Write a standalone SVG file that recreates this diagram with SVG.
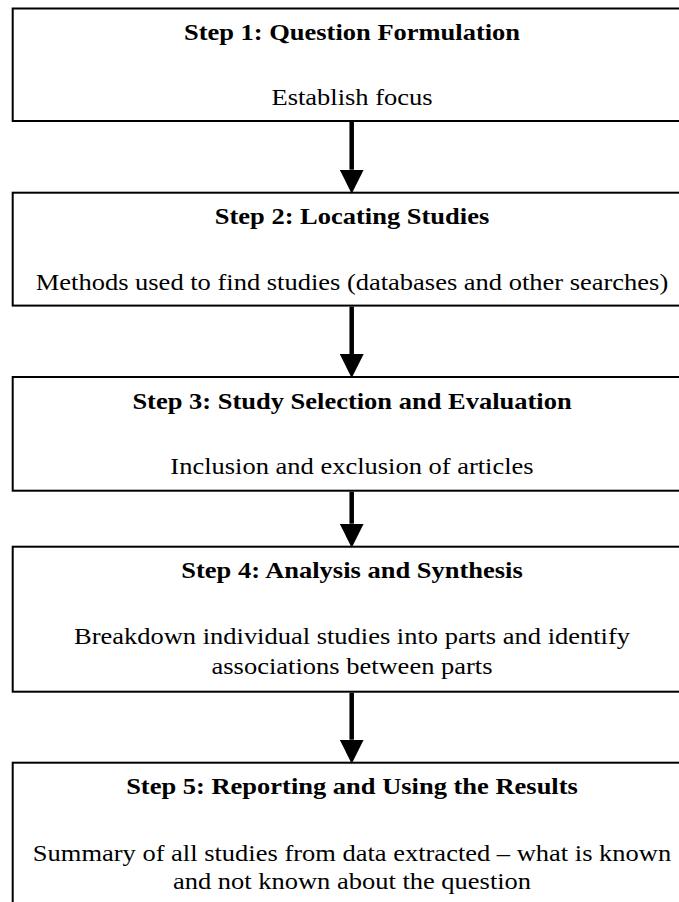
<svg xmlns="http://www.w3.org/2000/svg" width="679" height="902" viewBox="0 0 679 902">
<style>
.box{fill:#fff;stroke:#000;stroke-width:2}
.t{font-family:"Liberation Serif","Times New Roman",serif;font-size:24px;fill:#000;text-anchor:middle}
.b{font-weight:bold}
.conn{stroke:#000;stroke-width:4.5;fill:none;marker-end:url(#ah)}
</style>
<defs>
<marker id="ah" markerUnits="userSpaceOnUse" markerWidth="24" markerHeight="24" viewBox="0 0 23 23" refX="0" refY="11.5" orient="auto">
<path d="M0,0 L23,11.5 L0,23 z" fill="#000"/>
</marker>
</defs>
<rect width="679" height="902" fill="#fff"/>
<g id="step1">
<rect class="box" x="12.7" y="8.5" width="680" height="112.5"/>
<g transform="translate(352 0) scale(1.104 1)">
<text class="t b" x="0" y="40">Step 1: Question Formulation</text>
<text class="t" x="0" y="105">Establish focus</text>
</g>
</g>
<g id="step2">
<rect class="box" x="12.7" y="192.7" width="680" height="112.9"/>
<g transform="translate(352 0) scale(1.104 1)">
<text class="t b" x="0" y="224.5">Step 2: Locating Studies</text>
<text class="t" x="0" y="290">Methods used to find studies (databases and other searches)</text>
</g>
</g>
<g id="step3">
<rect class="box" x="12.7" y="377" width="680" height="113.7"/>
<g transform="translate(352 0) scale(1.104 1)">
<text class="t b" x="0" y="409">Step 3: Study Selection and Evaluation</text>
<text class="t" x="0" y="474.5">Inclusion and exclusion of articles</text>
</g>
</g>
<g id="step4">
<rect class="box" x="12.7" y="546.7" width="680" height="145"/>
<g transform="translate(352 0) scale(1.104 1)">
<text class="t b" x="0" y="578.5">Step 4: Analysis and Synthesis</text>
<text class="t" x="0" y="644.5">Breakdown individual studies into parts and identify</text>
<text class="t" x="0" y="674.5">associations between parts</text>
</g>
</g>
<g id="step5">
<rect class="box" x="12.7" y="762.7" width="680" height="160"/>
<g transform="translate(352 0) scale(1.104 1)">
<text class="t b" x="0" y="794.5">Step 5: Reporting and Using the Results</text>
<text class="t" x="0" y="861">Summary of all studies from data extracted – what is known</text>
<text class="t" x="0" y="889.5">and not known about the question</text>
</g>
</g>
<g id="connectors">
<line class="conn" x1="351.7" y1="122" x2="351.7" y2="169.7"/>
<line class="conn" x1="351.7" y1="306.6" x2="351.7" y2="354"/>
<line class="conn" x1="351.7" y1="491.7" x2="351.7" y2="523.7"/>
<line class="conn" x1="351.7" y1="692.7" x2="351.7" y2="739.7"/>
</g>
</svg>
